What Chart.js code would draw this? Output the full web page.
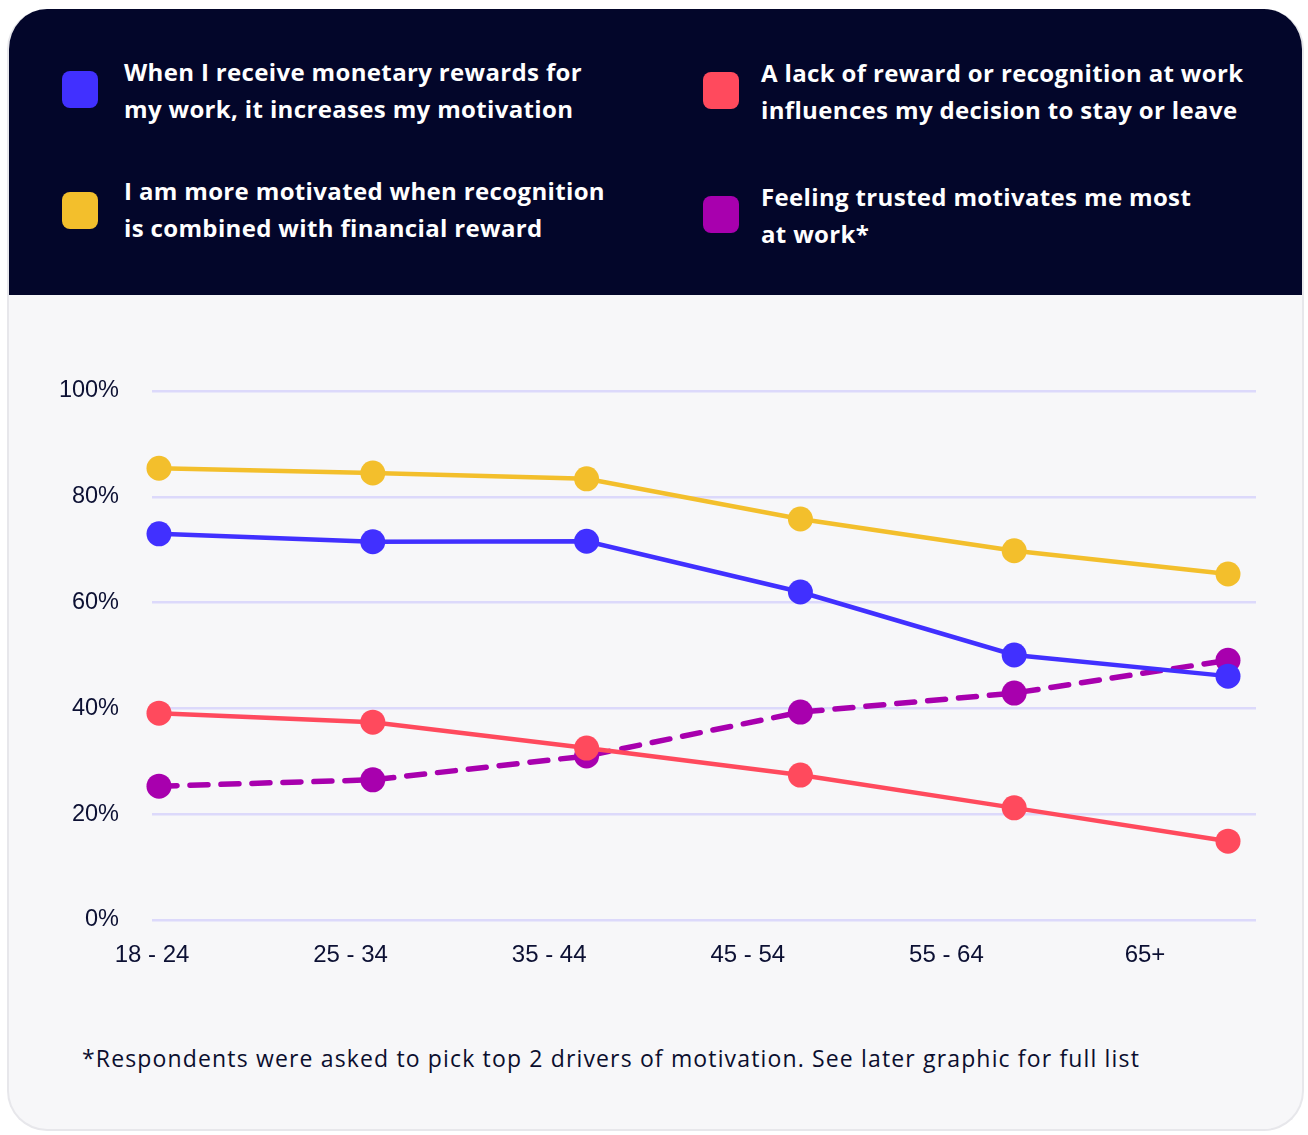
<!DOCTYPE html>
<html>
<head>
<meta charset="utf-8">
<script src="https://cdn.jsdelivr.net/npm/chart.js@4.4.1/dist/chart.umd.min.js"></script>
<style>
  html, body { margin: 0; padding: 0; background: #ffffff; }
  body { width: 1308px; height: 1135px; position: relative; overflow: hidden; }
  .card {
    position: absolute; left: 7px; top: 9px; width: 1297px; height: 1122px;
    background: #f7f7f9; border: 2px solid #e7e7eb; border-top: none;
    border-radius: 40px; overflow: hidden; box-sizing: border-box;
  }
  .header {
    position: absolute; left: 0; top: 0; width: 100%; height: 286px;
    background: #03062a;
  }
  .item { position: absolute; color: #ffffff; font-family: "Open Sans", sans-serif; font-weight: 700;
    font-size: 24px; line-height: 37px; white-space: nowrap; letter-spacing: 0.35px; }
  .sw { position: absolute; width: 36px; height: 37px; border-radius: 8px; }
  .note { position: absolute; left: 82px; top: 1042px; font-family: "Open Sans", sans-serif;
    font-size: 23px; letter-spacing: 1.15px; color: #0b0e2e; white-space: nowrap; }
  #wrap { position: absolute; left: 0; top: 300px; width: 1308px; height: 700px; }
</style>
</head>
<body>
<div class="card"><div class="header"></div></div>
<div class="sw" style="left:62px;top:71px;background:#4130ff"></div>
<div class="item" style="left:124px;top:53px">When I receive monetary rewards for<br>my work, it increases my motivation</div>
<div class="sw" style="left:62px;top:192px;background:#f3bf2c"></div>
<div class="item" style="left:124px;top:172px">I am more motivated when recognition<br>is combined with financial reward</div>
<div class="sw" style="left:703px;top:72px;background:#ff4a5d"></div>
<div class="item" style="left:761px;top:54px">A lack of reward or recognition at work<br>influences my decision to stay or leave</div>
<div class="sw" style="left:703px;top:196px;background:#a800ae"></div>
<div class="item" style="left:761px;top:178px">Feeling trusted motivates me most<br>at work*</div>
<div class="note">*Respondents were asked to pick top 2 drivers of motivation. See later graphic for full list</div>
<div id="wrap"><canvas id="chart" width="1308" height="700"></canvas></div>
<script>
const ageGroups = ["18 - 24", "25 - 34", "35 - 44", "45 - 54", "55 - 64", "65+"];
const monetary = [73.0, 71.5, 71.6, 62.0, 50.1, 46.1];
const combined = [85.4, 84.5, 83.4, 75.8, 69.8, 65.4];
const lackOfReward = [39.1, 37.4, 32.5, 27.4, 21.2, 14.9];
const trusted = [25.3, 26.5, 31.0, 39.3, 42.9, 49.1];
const yTicks = [0, 20, 40, 60, 80, 100];

function pts(arr) {
  return arr.map((v, i) => ({ x: i, y: v }));
}

function lineSet(label, data, color, dashed) {
  return {
    label: label,
    data: pts(data),
    borderColor: color,
    backgroundColor: color,
    pointBackgroundColor: color,
    pointBorderWidth: 0,
    pointRadius: 12.5,
    borderWidth: dashed ? 5.5 : 4.5,
    borderDash: dashed ? [18, 13] : [],
    borderCapStyle: "round",
    tension: 0,
    clip: false,
  };
}

const ctx = document.getElementById("chart").getContext("2d");
new Chart(ctx, {
  type: "line",
  data: {
    datasets: [
      lineSet("When I receive monetary rewards for my work, it increases my motivation", monetary, "#4130ff", false),
      lineSet("A lack of reward or recognition at work influences my decision to stay or leave", lackOfReward, "#ff4a5d", false),
      lineSet("I am more motivated when recognition is combined with financial reward", combined, "#f3bf2c", false),
      lineSet("Feeling trusted motivates me most at work*", trusted, "#a800ae", true),
    ],
  },
  options: {
    responsive: false,
    animation: false,
    layout: { padding: { top: 91, right: 52, left: 0, bottom: 0 } },
    plugins: { legend: { display: false }, tooltip: { enabled: false } },
    scales: {
      x: {
        type: "linear",
        display: false,
        min: -0.0327,
        max: 5.131,
      },
      x2: {
        type: "linear",
        position: "bottom",
        min: 0,
        max: 5.559,
        border: { display: false },
        grid: { display: false, drawTicks: false },
        afterFit: (scale) => { scale.height = 80; },
        ticks: {
          stepSize: 1,
          autoSkip: false,
          maxRotation: 0,
          includeBounds: false,
          padding: 21,
          color: "#0c1033",
          font: { family: "Liberation Sans", size: 24 },
          callback: (v) => ageGroups[v] || "",
        },
      },
      y: {
        min: 0,
        max: 100,
        border: { display: false },
        afterFit: (scale) => { scale.width = 152; },
        grid: { color: "#dcd9fb", lineWidth: 2.5, drawTicks: false },
        afterBuildTicks: (scale) => { scale.ticks = yTicks.map((v) => ({ value: v })); },
        ticks: {
          padding: 33,
          color: "#0c1033",
          font: { family: "Liberation Sans", size: 23.5 },
          callback: (v) => v + "%",
        },
      },
    },
  },
});
</script>
</body>
</html>
